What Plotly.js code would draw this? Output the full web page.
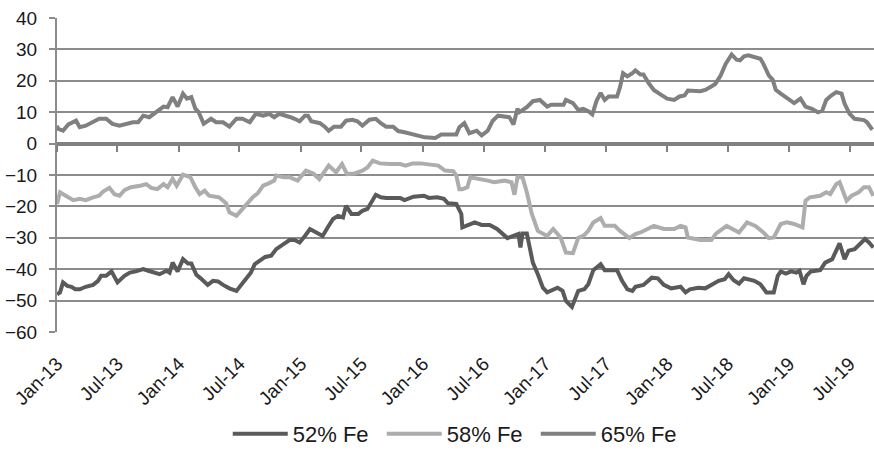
<!DOCTYPE html>
<html>
<head>
<meta charset="utf-8">
<script src="https://cdn.plot.ly/plotly-3.0.1.min.js"></script>
<style>html,body{margin:0;padding:0;background:#fff}#chart{width:874px;height:455px}</style>
</head>
<body>
<div id="chart"></div>
<script>
var seriesNames = ["52% Fe", "58% Fe", "65% Fe"];

var dates52 = ["2013-01-01","2013-01-10","2013-01-19","2013-02-01","2013-02-13","2013-02-25","2013-03-10","2013-03-28","2013-04-19","2013-05-04","2013-05-13","2013-05-28","2013-06-13","2013-06-22","2013-07-01","2013-07-22","2013-08-07","2013-08-25","2013-09-16","2013-10-01","2013-10-16","2013-11-04","2013-11-25","2013-12-04","2013-12-13","2013-12-28","2014-01-13","2014-01-28","2014-02-07","2014-02-22","2014-03-07","2014-03-16","2014-03-28","2014-04-13","2014-04-28","2014-05-13","2014-06-01","2014-06-22","2014-07-07","2014-07-22","2014-08-04","2014-08-16","2014-09-01","2014-09-16","2014-10-04","2014-10-19","2014-11-10","2014-11-28","2014-12-13","2014-12-28","2015-01-13","2015-01-28","2015-02-16","2015-03-07","2015-03-22","2015-04-07","2015-04-22","2015-05-07","2015-05-16","2015-06-01","2015-06-22","2015-07-04","2015-07-19","2015-08-01","2015-08-13","2015-08-28","2015-09-13","2015-10-25","2015-11-07","2015-12-04","2016-01-04","2016-01-19","2016-02-13","2016-03-04","2016-03-16","2016-04-10","2016-04-25","2016-04-28","2016-05-25","2016-06-04","2016-06-25","2016-07-19","2016-08-10","2016-08-28","2016-09-10","2016-09-28","2016-10-13","2016-10-19","2016-10-25","2016-11-07","2016-11-16","2016-11-25","2016-12-10","2016-12-25","2017-01-07","2017-01-22","2017-02-07","2017-02-22","2017-03-04","2017-03-22","2017-04-04","2017-04-10","2017-04-28","2017-05-10","2017-05-25","2017-06-16","2017-06-28","2017-08-04","2017-08-19","2017-09-04","2017-09-19","2017-09-28","2017-10-22","2017-11-16","2017-12-04","2017-12-22","2018-01-13","2018-02-10","2018-02-25","2018-03-10","2018-04-04","2018-04-25","2018-05-13","2018-06-04","2018-06-22","2018-07-04","2018-07-19","2018-08-04","2018-08-19","2018-09-19","2018-10-07","2018-10-25","2018-11-16","2018-11-28","2018-12-07","2018-12-22","2019-01-07","2019-01-22","2019-02-01","2019-02-13","2019-02-22","2019-03-07","2019-04-04","2019-04-19","2019-05-10","2019-05-22","2019-06-01","2019-06-16","2019-06-28","2019-07-16","2019-08-01","2019-08-16","2019-08-28","2019-09-10"];
var fe52 = [-48.0,-47.4,-44.2,-45.3,-45.6,-46.4,-46.4,-45.6,-45.0,-43.7,-42.1,-42.1,-40.7,-42.7,-44.2,-42.1,-41.1,-40.7,-40.0,-40.5,-41.1,-41.6,-40.5,-41.1,-37.9,-40.7,-36.8,-38.2,-38.2,-41.8,-42.9,-43.7,-45.0,-43.7,-43.9,-45.0,-46.1,-46.9,-44.8,-42.7,-41.1,-38.4,-37.3,-36.1,-35.7,-33.6,-32.0,-30.7,-30.7,-31.5,-29.4,-27.2,-28.3,-29.4,-26.7,-24.0,-23.0,-23.5,-19.8,-22.4,-22.4,-21.4,-20.8,-18.7,-16.3,-17.1,-17.3,-17.3,-18.0,-16.9,-16.6,-17.3,-17.1,-17.6,-19.0,-19.2,-22.4,-26.7,-25.6,-25.1,-25.9,-25.9,-27.2,-29.0,-30.1,-29.4,-28.8,-33.1,-28.6,-28.6,-33.1,-37.9,-41.6,-45.9,-47.4,-46.7,-45.9,-46.9,-50.1,-52.0,-49.0,-46.9,-46.4,-44.8,-40.3,-38.4,-40.3,-40.3,-43.7,-46.4,-46.9,-45.6,-45.0,-42.7,-42.9,-45.0,-46.1,-45.6,-47.4,-46.4,-45.9,-46.1,-45.0,-43.7,-43.2,-41.6,-43.5,-44.6,-42.9,-43.7,-44.8,-47.4,-47.4,-42.1,-40.7,-41.4,-40.7,-41.1,-40.5,-44.8,-42.1,-40.7,-40.3,-37.9,-36.8,-34.1,-31.8,-36.8,-34.1,-33.6,-32.0,-30.4,-31.5,-33.1];

var dates58 = ["2013-01-01","2013-01-10","2013-02-01","2013-02-19","2013-03-10","2013-03-28","2013-04-19","2013-05-07","2013-05-19","2013-06-07","2013-06-22","2013-07-07","2013-07-22","2013-08-10","2013-09-07","2013-09-25","2013-10-10","2013-10-28","2013-11-16","2013-11-28","2013-12-13","2013-12-25","2014-01-13","2014-02-04","2014-02-19","2014-03-04","2014-03-19","2014-04-01","2014-05-01","2014-05-22","2014-06-01","2014-06-22","2014-07-07","2014-07-22","2014-08-10","2014-08-25","2014-09-10","2014-09-28","2014-10-13","2014-10-19","2014-11-10","2014-11-28","2014-12-22","2015-01-16","2015-02-07","2015-02-25","2015-03-25","2015-04-16","2015-05-04","2015-05-19","2015-06-10","2015-07-04","2015-07-19","2015-08-04","2015-08-25","2015-09-25","2015-10-25","2015-11-10","2015-12-01","2015-12-25","2016-01-16","2016-02-16","2016-03-07","2016-04-01","2016-04-10","2016-04-19","2016-04-28","2016-05-13","2016-05-22","2016-06-13","2016-07-13","2016-08-01","2016-09-01","2016-09-22","2016-10-01","2016-10-10","2016-10-25","2016-11-07","2016-11-22","2016-12-10","2017-01-07","2017-01-25","2017-02-16","2017-03-04","2017-03-25","2017-04-10","2017-04-25","2017-05-10","2017-05-25","2017-06-16","2017-06-28","2017-07-28","2017-08-13","2017-09-10","2017-09-28","2017-10-13","2017-11-22","2017-12-22","2018-01-22","2018-02-10","2018-02-25","2018-03-04","2018-04-10","2018-05-13","2018-05-28","2018-06-28","2018-07-13","2018-08-04","2018-08-28","2018-09-22","2018-10-16","2018-11-01","2018-11-16","2018-12-07","2018-12-25","2019-01-16","2019-02-10","2019-02-19","2019-03-04","2019-04-04","2019-04-22","2019-05-04","2019-05-22","2019-06-01","2019-06-22","2019-07-07","2019-07-28","2019-08-13","2019-08-28","2019-09-10"];
var fe58 = [-19.2,-15.5,-16.9,-18.0,-17.6,-18.0,-17.1,-16.6,-15.3,-14.1,-16.1,-16.6,-14.8,-13.9,-13.4,-12.9,-14.1,-14.5,-12.9,-13.9,-11.2,-13.4,-9.9,-10.7,-13.9,-16.1,-15.0,-16.6,-17.1,-19.0,-21.9,-23.0,-21.2,-19.2,-17.1,-15.8,-13.4,-12.6,-11.8,-10.2,-10.7,-10.7,-11.8,-8.6,-9.5,-11.3,-7.0,-9.1,-6.5,-9.7,-9.5,-8.6,-7.6,-5.4,-6.3,-6.5,-6.5,-7.0,-6.3,-6.3,-6.7,-7.0,-8.6,-8.8,-10.2,-14.5,-14.5,-13.9,-10.7,-11.3,-11.8,-12.3,-11.8,-12.3,-16.3,-10.7,-10.7,-15.5,-22.4,-27.8,-29.4,-27.2,-29.9,-34.7,-34.9,-30.0,-29.4,-27.8,-25.1,-23.7,-26.2,-26.2,-27.8,-30.1,-28.8,-28.3,-26.2,-27.2,-27.2,-26.2,-26.7,-29.9,-30.7,-30.7,-28.6,-26.2,-27.2,-28.3,-25.1,-26.2,-28.3,-30.1,-29.9,-25.6,-25.1,-25.6,-26.7,-18.2,-17.1,-16.6,-15.5,-16.1,-12.9,-12.3,-18.2,-16.6,-15.5,-13.9,-13.9,-16.6];

var dates65 = ["2013-01-01","2013-01-04","2013-01-19","2013-02-04","2013-02-27","2013-03-10","2013-03-28","2013-04-22","2013-05-07","2013-05-28","2013-06-16","2013-07-07","2013-07-28","2013-08-16","2013-09-01","2013-09-16","2013-10-04","2013-10-25","2013-11-16","2013-11-28","2013-12-13","2013-12-28","2014-01-13","2014-01-25","2014-02-07","2014-02-19","2014-03-01","2014-03-16","2014-04-07","2014-04-22","2014-05-13","2014-06-01","2014-06-22","2014-07-10","2014-08-01","2014-08-19","2014-09-10","2014-09-28","2014-10-13","2014-10-28","2014-11-19","2014-12-01","2014-12-13","2014-12-28","2015-01-13","2015-01-22","2015-02-01","2015-02-27","2015-03-13","2015-03-25","2015-04-10","2015-05-01","2015-05-16","2015-06-04","2015-06-19","2015-07-04","2015-07-25","2015-08-13","2015-08-28","2015-09-13","2015-10-04","2015-10-19","2015-11-07","2015-11-28","2015-12-16","2016-01-07","2016-02-07","2016-02-25","2016-04-10","2016-04-19","2016-05-04","2016-05-19","2016-06-10","2016-06-25","2016-07-13","2016-07-28","2016-08-13","2016-09-07","2016-09-16","2016-09-28","2016-10-10","2016-10-16","2016-11-07","2016-11-25","2016-12-16","2017-01-07","2017-01-19","2017-02-10","2017-02-25","2017-03-04","2017-03-25","2017-04-10","2017-04-25","2017-05-10","2017-05-22","2017-06-04","2017-06-16","2017-06-28","2017-07-10","2017-08-04","2017-08-13","2017-08-22","2017-09-04","2017-09-19","2017-09-28","2017-10-13","2017-10-22","2017-11-07","2017-11-22","2017-12-13","2018-01-01","2018-01-22","2018-02-07","2018-02-22","2018-03-04","2018-04-10","2018-04-25","2018-05-13","2018-05-25","2018-06-10","2018-06-25","2018-07-13","2018-07-28","2018-08-07","2018-08-19","2018-09-01","2018-09-22","2018-10-07","2018-10-16","2018-11-01","2018-11-13","2018-11-22","2018-12-07","2018-12-25","2019-01-16","2019-02-04","2019-02-19","2019-03-10","2019-03-28","2019-04-10","2019-04-22","2019-05-07","2019-05-22","2019-06-07","2019-06-16","2019-07-01","2019-07-16","2019-08-13","2019-08-22","2019-09-07"];
var fe65 = [5.7,4.7,4.1,6.1,7.3,5.2,5.7,7.3,7.9,7.9,6.3,5.7,6.3,6.8,6.8,8.9,8.4,10.0,11.8,11.6,14.8,11.8,15.9,14.3,14.8,11.1,10.0,6.3,7.9,6.8,6.8,5.4,7.9,7.9,6.8,9.5,8.9,9.5,8.4,9.5,8.9,8.4,7.9,7.1,8.9,8.9,7.1,6.5,5.4,4.1,5.4,5.4,7.3,7.6,7.1,5.7,7.6,7.9,6.5,5.4,5.4,4.0,3.6,3.1,2.6,2.0,1.8,2.9,2.9,5.2,6.5,3.3,4.1,2.6,4.1,7.3,8.9,8.6,8.4,6.1,11.1,10.0,11.6,13.5,13.9,11.8,12.4,12.4,12.4,13.9,12.9,10.7,11.1,10.3,9.3,13.7,16.1,13.9,15.0,15.0,18.0,22.4,21.4,22.4,23.3,22.0,22.0,19.2,17.1,15.6,14.3,13.9,15.0,15.3,16.9,16.7,17.1,18.2,19.0,21.7,25.4,28.4,26.7,26.5,27.8,28.1,27.5,27.0,25.4,21.7,20.3,17.1,15.9,14.6,12.9,14.3,11.8,11.1,10.0,10.5,13.9,15.3,16.4,15.9,12.7,9.5,7.9,7.5,6.8,4.4];

var xRange = ["2013-01-01", "2019-09-12"];
var yTicks = [-60, -50, -40, -30, -20, -10, 0, 10, 20, 30, 40];

var FONT = "Liberation Sans, Arial, Helvetica, sans-serif";
var GRID = "#8c8c8c";

var traces = [
  {x: dates52, y: fe52, name: seriesNames[0], type: "scatter", mode: "lines", line: {color: "#5a5a5a", width: 4}},
  {x: dates58, y: fe58, name: seriesNames[1], type: "scatter", mode: "lines", line: {color: "#adadad", width: 4}},
  {x: dates65, y: fe65, name: seriesNames[2], type: "scatter", mode: "lines", line: {color: "#808080", width: 4}},
  /* empty helper trace so that the zero-level date axis (ticks on y = 0) is drawn */
  {x: [], y: [], xaxis: "x2", yaxis: "y2", type: "scatter", mode: "lines", showlegend: false, hoverinfo: "skip"}
];

var layout = {
  width: 874, height: 455,
  margin: {l: 57, r: 0, t: 18, b: 123, autoexpand: false},
  paper_bgcolor: "#ffffff", plot_bgcolor: "rgba(0,0,0,0)",
  font: {family: FONT, size: 19, color: "#1a1a1a"},
  showlegend: true,
  legend: {orientation: "h", x: 0.209, xanchor: "left", yref: "container", y: -0.01, yanchor: "bottom",
           font: {family: FONT, size: 22, color: "#1a1a1a"}, itemwidth: 55,
           entrywidth: 84, entrywidthmode: "pixels", bgcolor: "rgba(0,0,0,0)"},
  xaxis: {
    type: "date", range: xRange, tickformat: "%b-%y", dtick: "M6", tick0: "2013-01-01",
    tickangle: -45, ticks: "", showgrid: false, showline: false, zeroline: false,
    tickfont: {family: FONT, size: 19, color: "#1a1a1a"}, ticklabelstandoff: 16,
    anchor: "y", fixedrange: true
  },
  yaxis: {
    range: [-60, 40], tickvals: yTicks, showgrid: true, gridcolor: GRID, gridwidth: 2,
    zeroline: true, zerolinecolor: "#808080", zerolinewidth: 2.5,
    showline: true, linecolor: GRID, linewidth: 2,
    ticks: "outside", ticklen: 6, tickwidth: 2, tickcolor: GRID,
    tickfont: {family: FONT, size: 19, color: "#1a1a1a"}, ticklabelstandoff: 8, fixedrange: true
  },
  xaxis2: {
    type: "date", range: xRange, dtick: "M6", tick0: "2013-01-01", anchor: "y2", domain: [0, 1],
    showticklabels: false, ticks: "outside", ticklen: 6, tickwidth: 2, tickcolor: "#808080",
    showgrid: false, zeroline: false, showline: true, linecolor: "#808080", linewidth: 2.5, fixedrange: true
  },
  yaxis2: {
    domain: [0.6, 1], range: [0, 40], anchor: "x2", showticklabels: false, showgrid: false, zeroline: false,
    showline: false, ticks: "", fixedrange: true
  }
};

Plotly.newPlot("chart", traces, layout, {staticPlot: true, displayModeBar: false});
</script>
</body>
</html>
